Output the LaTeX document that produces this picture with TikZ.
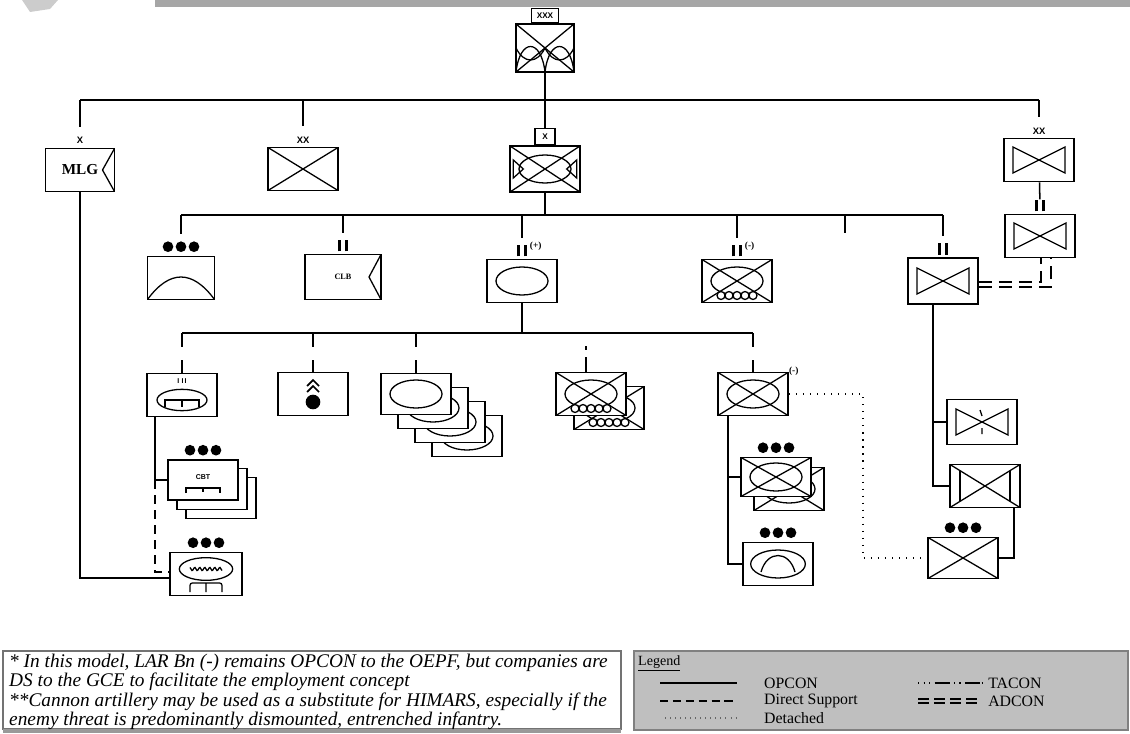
\documentclass[tikz,border=0pt]{standalone}
\usepackage{fontspec}
\setmainfont{Liberation Serif}
\setsansfont{Liberation Sans}
\usetikzlibrary{positioning}

\newcommand\ppb{path picture bounding box}
\newcommand\bnmark{\rule{2.4pt}{10pt}\hspace{3.4pt}\rule{2.4pt}{10pt}}
\newcommand\symX{\draw[sline] (\ppb.south west) -- (\ppb.north east) (\ppb.north west) -- (\ppb.south east);}
\newcommand\symOval{\draw[sline] (\ppb.center) ellipse [x radius=0.78cm, y radius=0.42cm];}
\newcommand\symBow{\draw[sline] (\ppb.center) -- ++(-26,-13) -- ++(0,26) -- cycle (\ppb.center) -- ++(26,-13) -- ++(0,26) -- cycle;}
\newcommand\symWheels{\foreach \i in {-2,...,2} \draw[sline, fill=white] (\ppb.south) ++(\i*8,-7) circle (0.12cm);}
\newcommand\symArc{\draw[sline] (\ppb.south west) .. controls +(22,-30) and +(-22,-30) .. (\ppb.south east);}
\newcommand\symNotch{\draw[sline] (\ppb.north east) -- ([xshift=-0.36cm]\ppb.east) -- (\ppb.south east);}
\newcommand\symWing{\draw[sline] (\ppb.south west) .. controls +(4,-34) and +(-4,-34) .. (\ppb.south) .. controls +(4,-34) and +(-4,-34) .. (\ppb.south east);
    \draw[sline] (\ppb.west) .. controls +(8,16) and +(-8,16) .. (\ppb.center) .. controls +(8,16) and +(-8,16) .. (\ppb.east);}
\newcommand\symSides{\draw[sline] ([xshift=0.1cm]\ppb.west) ++(0,-9) -- ++(0,18) -- ++(10,-9) -- cycle ([xshift=-0.1cm]\ppb.east) ++(0,-9) -- ++(0,18) -- ++(-10,-9) -- cycle;}
\newcommand\symRocket{\fill[black] (\ppb.center) ++(0,8) circle (0.22cm);
    \draw[line width=1.5pt] (\ppb.center) ++(-6,-2) -- ++(6,-6) -- ++(6,6) (\ppb.center) ++(-6,-8) -- ++(6,-6) -- ++(6,6);}
\newcommand\symTrack{\draw[sline] (\ppb.center) ++(0,5) ellipse [x radius=0.75cm, y radius=0.32cm];
    \draw[sline] (\ppb.center) ++(-17,12) -- ++(0,-7) -- ++(34,0) -- ++(0,7) (\ppb.center) ++(0,5) -- ++(0,7);}
\newcommand\symCbt{\draw[sline] (\ppb.center) ++(-17,13) -- ++(0,-5) -- ++(34,0) -- ++(0,5) (\ppb.center) ++(0,8) -- ++(0,4);}
\newcommand\symSpring{\draw[sline] (\ppb.center) ++(0,-5) ellipse [x radius=0.8cm, y radius=0.34cm];
    \draw[sline, shift={(\ppb.center)}] plot[domain=-16:16, samples=33] (\x, {-5+1.6*sin(\x*72)});
    \draw[sline, rounded corners=2pt] (\ppb.center) ++(-16,18) -- ++(0,-9) -- ++(32,0) -- ++(0,9) (\ppb.center) ++(0,9) -- ++(0,9);}
\newcommand\symBowl{\draw[sline] (\ppb.center) ellipse [x radius=0.82cm, y radius=0.42cm];
    \draw[sline] (\ppb.center) ++(-17,8) .. controls +(6,-22) and +(-6,-22) .. ++(34,0);}
\newcommand\symUav{\symBow\draw[sline] (\ppb.center) ++(-2,-12) -- ++(2,6) (\ppb.center) ++(0,6) -- ++(0,6);}
\newcommand\symFw{\symX\draw[sline] (\ppb.center) ++(-25,-15) -- ++(0,30) (\ppb.center) ++(25,-15) -- ++(0,30);}

\tikzset{
    unit/.style={draw, line width=1.5pt, fill=white, minimum width=2.1cm, minimum height=1.29cm, inner sep=0pt},
    sym/.style={path picture={#1}},
    sline/.style={line width=1.1pt},
    ech/.style={font=\sffamily\bfseries\fontsize{8}{8}\selectfont, inner sep=0pt},
    bn/.style={inner sep=0pt},
    mod/.style={font=\bfseries\fontsize{8}{8}\selectfont, inner sep=0pt},
    hq/.style={draw, line width=1.3pt, fill=white, inner sep=0pt, font=\sffamily\bfseries\fontsize{7}{7}\selectfont},
    plt/.style={fill=white, minimum width=1.2cm, minimum height=0.36cm, inner sep=0pt,
        path picture={\foreach \i in {-1,0,1} \fill[black] (\ppb.center) ++(\i*13,0) circle (0.16cm);}},
    tag/.style={font=\sffamily\bfseries\fontsize{6}{6}\selectfont, inner sep=0pt},
    link/.style={line width=1.3pt},
    ds/.style={link, dash pattern=on 0.27cm off 0.18cm},
    ds3/.style={link, dash pattern=on 0.42cm off 0.39cm},
    tacon/.style={link, dash pattern=on 0.01cm off 0.39cm on 0.12cm off 0.21cm on 0.7cm},
    adcon/.style={link, dash pattern=on 0.4cm off 0.2cm},
    det/.style={line width=1.4pt, dash pattern=on 1pt off 5pt},
    lgd/.style={font=\fontsize{13.5}{13.5}\selectfont, inner sep=0pt, anchor=west},
}

\begin{document}
\begin{tikzpicture}[x=0.03cm, y=-0.03cm]
    \useasboundingbox (0,0) rectangle (1130,733);
    \fill[black!35] (155,0) rectangle (1130,7);
    \fill[black!20] (22,0) -- (58,0) -- (50,9) -- (30,12) -- cycle;

    \node[unit, minimum width=1.74cm, minimum height=1.44cm, sym={\symX\symWing}] (mef) at (545,48) {};
    \node[hq, minimum width=0.8cm, minimum height=0.42cm, above=0pt of mef] (mefx) {XXX};

    \node[unit, minimum width=2.07cm, sym={\symNotch}, font=\bfseries\fontsize{13}{13}\selectfont] (mlg) at (80,170) {MLG\hspace{0.3cm}};
    \node[ech, above=0.12cm of mlg] (mlgx) {X};
    \node[unit, sym={\symX}] (div) at (303,169) {};
    \node[ech, above=0.1cm of div] (divx) {XX};
    \node[unit, minimum height=1.38cm, sym={\symX\symOval\symSides}] (meb) at (545,169) {};
    \node[hq, minimum width=0.6cm, minimum height=0.48cm, above=0pt of meb] (mebx) {X};
    \node[unit, sym={\symBow}] (acedv) at (1039,160) {};
    \node[ech, above=0.1cm of acedv] (acedvx) {XX};
    \node[unit, sym={\symBow}] (acebn) at (1040,236) {};
    \node[bn, above=0.06cm of acebn] (acebnx) {\bnmark};

    \node[unit, minimum width=2.01cm, sym={\symArc}] (plt1) at (181,278) {};
    \node[plt, above=0.08cm of plt1] (plt1d) {};
    \node[unit, minimum width=2.28cm, minimum height=1.35cm, sym={\symNotch}, font=\bfseries\fontsize{7}{7}\selectfont] (clb) at (343,277) {CLB\hspace{0.4cm}};
    \node[bn, above=0.06cm of clb] (clbx) {\bnmark};
    \node[unit, sym={\symOval}] (tkbn) at (522,281) {};
    \node[bn, above=0.06cm of tkbn] (tkbnx) {\bnmark};
    \node[mod, above right=-0.2cm and 0.08cm of tkbnx] (tkbnm) {(+)};
    \node[unit, sym={\symX\symOval\symWheels}] (larbn) at (737,281) {};
    \node[bn, above=0.06cm of larbn] (larbnx) {\bnmark};
    \node[mod, above right=-0.2cm and 0.08cm of larbnx] (larbnm) {(-)};
    \node[unit, minimum height=1.38cm, sym={\symBow}] (avbn) at (943,281) {};
    \node[bn, above=0.06cm of avbn] (avbnx) {\bnmark};

    \node[unit, sym={\symTrack}] (aav) at (182,395) {};
    \node[tag] (aavt) at ([yshift=0.42cm]aav.center) {I\,\,I\,I};
    \node[unit, sym={\symRocket}] (him) at (313,394) {};
    \foreach \i in {3,2,1,0}
        \node[unit, minimum height=1.23cm, sym={\symOval}] (tk\i) at ({416+17*\i},{394+14*\i}) {};
    \node[unit, sym={\symX\symOval\symWheels}] (lar2) at (609,408) {};
    \node[unit, sym={\symX\symOval\symWheels}] (lar1) at (591,394) {};
    \node[unit, sym={\symX\symOval}] (mech) at (753,394) {};
    \node[mod, anchor=west] (mechm) at (mech.north east) {(-)};

    \foreach \i in {2,1}
        \node[unit, minimum height=1.23cm] (cbt\i) at ({203+9*\i},{480+9*\i}) {};
    \node[unit, minimum height=1.2cm, sym={\symCbt}] (cbt0) at (203,480) {};
    \node[tag] (cbtt) at ([yshift=0.1cm]cbt0.center) {CBT};
    \node[plt, above=0.08cm of cbt0] (cbtd) {};
    \node[unit, minimum width=2.16cm, sym={\symSpring}] (plt4) at (206,574) {};
    \node[plt, above=0.08cm of plt4] (plt4d) {};

    \node[unit, sym={\symX\symOval}] (mc1) at (789,489) {};
    \node[unit, minimum height=1.17cm, sym={\symX\symOval}] (mc0) at (776,477) {};
    \node[plt, above=0.08cm of mc0] (mcd) {};
    \node[unit, sym={\symBowl}] (plt2) at (778,564) {};
    \node[plt, above=0.08cm of plt2] (plt2d) {};

    \node[unit, minimum height=1.35cm, sym={\symUav}] (uav) at (982,422) {};
    \node[unit, sym={\symFw}] (fw) at (985,486) {};
    \node[unit, minimum height=1.23cm, sym={\symX}] (plt3) at (963,558) {};
    \node[plt, above=0.08cm of plt3] (plt3d) {};

    \coordinate (b1) at (545,100);
    \coordinate (b2) at (545,215);
    \coordinate (b3) at (521,333);
    \coordinate (stub) at (845,233);
    \coordinate (ad1) at (1041,282);
    \coordinate (ad2) at (1051,287);
    \coordinate (j1) at (155,480);
    \coordinate (m1) at (728,477);
    \coordinate (d1) at (863,558);
    \coordinate (r1) at (933,422);
    \coordinate (r2) at (933,486);

    \draw[link] (mef) -- (b1);
    \draw[link] (mlg |- b1) -- (acedv |- b1);
    \foreach \n in {mlgx, divx, acedvx}
        \draw[link, shorten >=0.3cm] (\n |- b1) -- (\n.north);
    \draw[link] (b1) -- (mebx);
    \draw[link] (acedv) -- (acebnx);

    \draw[link] (meb) -- (b2);
    \draw[link] (plt1 |- b2) -- (avbn |- b2);
    \foreach \n in {plt1d, clbx, tkbnx, larbnx, avbnx}
        \draw[link, shorten >=0.2cm] (\n |- b2) -- (\n.north);
    \draw[link] (stub |- b2) -- (stub);
    \draw[adcon] (avbn.east |- ad1) -- (ad1) -- (ad1 |- acebn.south);
    \draw[adcon] (avbn.east |- ad2) -- (ad2) -- (ad2 |- acebn.south);

    \draw[link] (tkbn) -- (tkbn |- b3);
    \draw[link] (aav |- b3) -- (mech |- b3);
    \foreach \n in {aav, him, tk0, mech}
        \draw[ds3] (\n |- b3) -- (\n.north);
    \draw[tacon] ([xshift=-0.15cm]lar1.north |- b3) -- ([xshift=-0.15cm]lar1.north);

    \draw[link] (aav.south -| j1) -- (j1) -- (cbt0.west);
    \draw[ds] (j1) |- ([yshift=0.06cm]plt4.west);
    \draw[link] (mlg) |- ([yshift=-0.12cm]plt4.west);

    \draw[link] (mech.south -| m1) |- (plt2.west);
    \draw[link] (m1) -- (mc0.west);
    \draw[det] (mech.east) -| (d1) -- (plt3.west);

    \draw[link] (avbn.south -| r1) -- (r2) -- (fw.west);
    \draw[link] (r1) -- (uav.west);
    \draw[link] ([xshift=-0.2cm]fw.south east) |- (plt3.east);

    \draw[black!55, line width=1pt, fill=white] (3,651) rectangle (621,729);
    \fill[black!40] (3,729) rectangle (621,733);
    \node[anchor=north west, align=left, inner sep=0pt, font=\itshape\fontsize{16.5}{16.4}\selectfont] (note) at (9,654)
        {* In this model, LAR Bn (-) remains OPCON to the OEPF, but companies are\\
         DS to the GCE to facilitate the employment concept\\
         **Cannon artillery may be used as a substitute for HIMARS, especially if the\\
         enemy threat is predominantly dismounted, entrenched infantry.};

    \draw[black!50, line width=1.5pt, fill=black!25] (634,651) rectangle (1128,730);
    \node[lgd, font=\fontsize{12}{12}\selectfont] (lgdt) at (638,663) {\underline{Legend}};
    \node[lgd] (opcon) at (764,683) {OPCON};
    \node[lgd] (dsup) at (764,701) {Direct Support};
    \node[lgd] (detd) at (764,718) {Detached};
    \node[lgd] (tacn) at (988,683) {TACON};
    \node[lgd] (adcn) at (988,701) {ADCON};
    \draw[link] (660,683) -- (737,683);
    \draw[link, dash pattern=on 7.2pt off 3.8pt] (660,701) -- (737,701);
    \draw[black!60, line width=1pt, dash pattern=on 0.8pt off 3.5pt] (665,718) -- (737,718);
    \draw[link, dash pattern=on 1.2pt off 3.5pt on 1.2pt off 3.5pt on 1.2pt off 3.5pt on 13pt off 3.5pt on 1.2pt off 3.5pt on 1.2pt off 3.5pt on 13pt] (918,683) -- (982,683);
    \draw[line width=1.2pt, dash pattern=on 9.4pt off 4.3pt] (918,699) -- (982,699);
    \draw[line width=1.2pt, dash pattern=on 9.4pt off 4.3pt] (918,703) -- (982,703);
\end{tikzpicture}
\end{document}
